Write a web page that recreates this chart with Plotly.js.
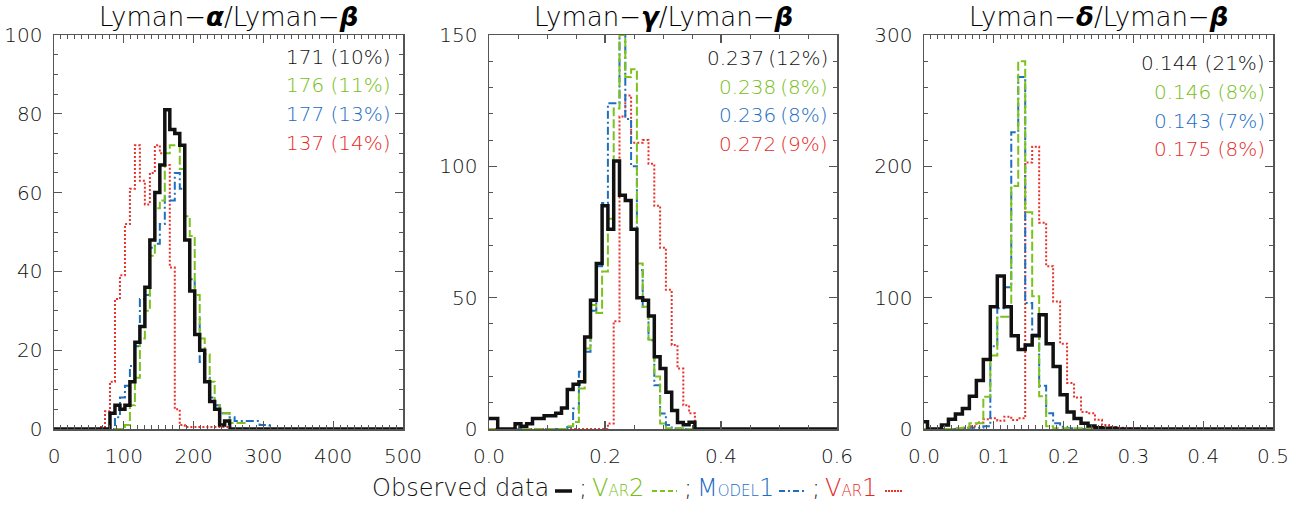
<!DOCTYPE html>
<html>
<head>
<meta charset="utf-8">
<script src="https://cdn.plot.ly/plotly-3.0.1.min.js"></script>
<style>html,body{margin:0;padding:0;background:#fff;}#chart{width:1313px;height:506px;}</style>
</head>
<body>
<div id="chart"></div>
<script>
// ---------------- DATA ----------------
// Panel 1: Lyman-alpha / Lyman-beta  (histogram bins: first edge, width)
const p1BinStart = 65.9;
const p1BinWidth = 7.143;
const p1Observed = [0, 0, 4, 6, 5, 6, 12, 22, 26, 36, 48, 60, 67, 81, 76, 75, 72, 48, 35, 24, 20, 12, 7, 5, 1, 2];
const p1Var2     = [0, 0, 0, 0, 0, 1, 6, 13, 23, 30, 44, 56, 58, 70, 72, 72, 66, 54, 49, 34, 23, 19, 12, 6, 4, 4, 1.5, 1.5, 1.5];
const p1Model1   = [0, 0, 0, 3, 8, 11, 16, 21, 33, 34, 46, 47, 52, 59, 58, 65, 61, 48, 38, 28, 17, 13, 8, 6, 4, 4, 3, 2, 2, 2, 2, 2, 1, 1];
const p1Var1     = [0.5, 4.5, 12, 33, 39, 52, 61, 72, 63, 57, 65, 72, 70, 67, 41, 5, 1, 0.5, 0.5, 0.5, 0.5, 0.5, 0.5, 0.5, 0.5, 0.5];
const p1Labels   = ["171 (10%)", "176 (11%)", "177 (13%)", "137 (14%)"];

// Panel 2: Lyman-gamma / Lyman-beta
const p2BinStart = -0.005;
const p2BinWidth = 0.01;
const p2Observed = [4, 4, 0, 0, 0, 2, 1, 2, 4, 4, 5, 5, 6, 8, 15, 17, 18, 35, 49, 63, 85, 76, 102, 89, 87, 76, 50, 49, 43, 27.5, 23, 14, 7, 2.5, 1.6, 2.6];
const p2Var2     = [0, 0, 0, 0, 0, 0, 0, 0, 0, 0, 0, 0, 0, 0, 1, 2.7, 15.4, 30.6, 47.2, 44.2, 60, 80, 122, 150, 134, 137, 63, 46.5, 34, 20, 2.1, 0.3, 0.3, 0.3];
const p2Model1   = [0, 0, 0, 0, 0, 0, 0, 0, 0, 0, 0, 0, 0, 0, 0.8, 7.8, 21.8, 29.4, 45, 62, 86, 124, 124, 150, 118, 100, 60.5, 46.5, 33.8, 16.7, 5.9, 1.5, 0.2, 0.2];
const p2Var1     = [0, 0, 0, 0, 0, 0, 0, 0, 0, 0, 0, 0, 0, 0, 0, 0, 0, 0, 0, 0, 0, 2.1, 41, 119, 127, 109, 109, 110, 101, 85, 69, 53, 32, 23, 9, 6];
const p2Labels   = ["0.237\u2009(12%)", "0.238\u2009(8%)", "0.236\u2009(8%)", "0.272\u2009(9%)"];

// Panel 3: Lyman-delta / Lyman-beta
const p3BinStart = -0.005;
const p3BinWidth = 0.01;
const p3Observed = [5.6, 0, 0, 3, 7.4, 11.4, 15.7, 25, 37, 53, 93, 116.5, 93, 71, 60.6, 64, 71, 87, 65, 47.5, 26, 13, 8, 4.3, 2.3, 1, 0.5, 0.5];
const p3Var2     = [0, 0, 0, 0, 0, 0.5, 1, 4.3, 4.3, 24.6, 56, 85.5, 85.5, 185, 280, 165, 101, 25, 2, 0.5, 0.5, 0.5, 0.5, 0.5];
const p3Model1   = [0, 0, 0, 0, 0, 0, 0.5, 1, 1, 2, 63, 92, 108, 226, 268, 96, 72, 33, 12, 4.3, 1.8, 0.5];
const p3Var1     = [0, 0, 0, 0, 0, 0.5, 1, 2, 5, 7.4, 8.1, 6.3, 9.4, 6.9, 8.1, 203, 215, 157, 124, 97, 65, 35, 24, 13, 12, 7, 3, 1.5, 1, 0.5, 0.5, 0.5];
const p3Labels   = ["0.144 (21%)", "0.146 (8%)", "0.143 (7%)", "0.175 (8%)"];

const panelTitles = [
  "Lyman\u2212<b><i>\u03b1</i></b>/Lyman\u2212<b><i>\u03b2</i></b>",
  "Lyman\u2212<b><i>\u03b3</i></b>/Lyman\u2212<b><i>\u03b2</i></b>",
  "Lyman\u2212<b><i>\u03b4</i></b>/Lyman\u2212<b><i>\u03b2</i></b>"
];
const xRanges = [[0, 500], [0, 0.6], [0, 0.5]];
const yRanges = [[0, 100], [0, 150], [0, 300]];

// legend pieces: [big letter, small caps, trailing]
const legendNames = [["Observed data", "", ""], ["V", "AR", "2"], ["M", "ODEL", "1"], ["V", "AR", "1"]];

// ---------------- STYLE ----------------
const COL = {obs: "#111111", var2: "#7cc21e", model1: "#1f6fc0", var1: "#e8322b"};
const textCol = {obs: "#111111", var2: "#74be14", model1: "#1a6cc4", var1: "#e5291f"};
const FONT = "DejaVu Sans, Verdana, sans-serif";
const WEIGHT = 300;

function stepXY(start, width, counts, xmin, xmax) {
  const xs = [], ys = [];
  if (start > xmin) { xs.push(xmin); ys.push(0); }
  counts.forEach((c, i) => { xs.push(start + i * width); ys.push(c); });
  xs.push(start + counts.length * width); ys.push(0);
  xs.push(xmax); ys.push(0);
  return {x: xs, y: ys};
}

const panels = [
  {start: p1BinStart, width: p1BinWidth, obs: p1Observed, v2: p1Var2, m1: p1Model1, v1: p1Var1, labels: p1Labels},
  {start: p2BinStart, width: p2BinWidth, obs: p2Observed, v2: p2Var2, m1: p2Model1, v1: p2Var1, labels: p2Labels},
  {start: p3BinStart, width: p3BinWidth, obs: p3Observed, v2: p3Var2, m1: p3Model1, v1: p3Var1, labels: p3Labels}
];

const styles = {
  var1: {color: COL.var1, dash: "2px,2px", w: 2},
  model1: {color: COL.model1, dash: "8px,3px,2px,3px", w: 2},
  var2: {color: COL.var2, dash: "9px,3px", w: 2},
  obs: {color: COL.obs, dash: "solid", w: 3.5}
};

const traces = [];
panels.forEach((p, i) => {
  const xa = i === 0 ? "x" : "x" + (i + 1);
  const ya = i === 0 ? "y" : "y" + (i + 1);
  const [xmin, xmax] = xRanges[i];
  const series = [[p.v1, styles.var1], [p.m1, styles.model1], [p.v2, styles.var2], [p.obs, styles.obs]];
  series.forEach(([d, s]) => {
    const xy = stepXY(p.start, p.width, d, xmin, xmax);
    traces.push({x: xy.x, y: xy.y, xaxis: xa, yaxis: ya, type: "scatter", mode: "lines",
      line: {shape: "hv", color: s.color, width: s.w, dash: s.dash}, hoverinfo: "skip"});
  });
});

const W = 1313, H = 506;
const xDomPx = [[54, 403], [489, 837], [924, 1273]];
const yDomPx = [35, 429];
const yDomain = [(H - yDomPx[1]) / H, (H - yDomPx[0]) / H];
const xDtick = [100, 0.2, 0.1], xMinor = [10, 0.05, 0.01];
const yDtick = [20, 50, 100], yMinor = [5, 10, 20];

const layout = {
  width: W, height: H, margin: {l: 0, r: 0, t: 0, b: 0},
  paper_bgcolor: "#fff", plot_bgcolor: "#fff", showlegend: false,
  font: {family: FONT, color: "#111", weight: WEIGHT},
  annotations: [], shapes: []
};

const axisCommon = {
  showgrid: false, zeroline: false, showline: true, linecolor: "#555", linewidth: 1.5,
  mirror: "ticks", ticks: "inside", ticklen: 8, tickwidth: 1.2, tickcolor: "#555",
  tickfont: {family: FONT, size: 20, color: "#111", weight: WEIGHT}
};

for (let i = 0; i < 3; i++) {
  const sfx = i === 0 ? "" : String(i + 1);
  layout["xaxis" + sfx] = Object.assign({}, axisCommon, {
    domain: [xDomPx[i][0] / W, xDomPx[i][1] / W], range: xRanges[i], anchor: "y" + sfx,
    dtick: xDtick[i], tick0: 0, ticklabelstandoff: 8,
    tickformat: i === 0 ? "d" : ".1f",
    minor: {dtick: xMinor[i], ticks: "inside", ticklen: 4, tickcolor: "#555", tickwidth: 1}
  });
  layout["yaxis" + sfx] = Object.assign({}, axisCommon, {
    domain: yDomain, range: yRanges[i], anchor: "x" + sfx,
    dtick: yDtick[i], tick0: 0, ticklabelstandoff: 6,
    minor: {dtick: yMinor[i], ticks: "inside", ticklen: 4, tickcolor: "#555", tickwidth: 1}
  });
  layout.annotations.push({
    xref: "paper", yref: "paper", x: (xDomPx[i][0] + xDomPx[i][1]) / 2 / W, y: (H - 17) / H,
    xanchor: "center", yanchor: "middle", showarrow: false,
    text: panelTitles[i], font: {family: FONT, size: 26, color: "#000", weight: WEIGHT}
  });
  const cols = [textCol.obs, textCol.var2, textCol.model1, textCol.var1];
  const rightPx = [393, 830, 1267][i];
  const yPx = [[57, 85, 114, 143], [58, 87, 115, 144], [63, 92, 121, 149]][i];
  panels[i].labels.forEach((t, j) => {
    layout.annotations.push({
      xref: "paper", yref: "paper", x: rightPx / W, y: (H - yPx[j]) / H,
      xanchor: "right", yanchor: "middle", showarrow: false,
      text: t, font: {family: FONT, size: 20, color: cols[j], weight: WEIGHT}
    });
  });
}

// bottom legend line: names, separators and line samples
const legY = (H - 488) / H;
const legNameX = [370, 590, 695, 823];
const legSampleX = [[555, 572], [652, 677], [779, 806], [885, 903]];
const legSemiX = [577, 682, 810];
const legCols = [textCol.obs, textCol.var2, textCol.model1, textCol.var1];
const legStyles = [styles.obs, styles.var2, styles.model1, styles.var1];
const legDash = ["solid", "5px,3px", "6px,3px,2px,3px", "2px,1px"];
legendNames.forEach((n, j) => {
  layout.annotations.push({
    xref: "paper", yref: "paper", x: legNameX[j] / W, y: legY, xanchor: "left", yanchor: "middle",
    showarrow: false, font: {family: FONT, size: 24, color: legCols[j], weight: WEIGHT},
    text: n[0] + (n[1] ? '<span style="font-size:15px">' + n[1] + '</span>' : '') + n[2]
  });
  const st = legStyles[j];
  layout.shapes.push({
    type: "line", xref: "paper", yref: "paper",
    x0: legSampleX[j][0] / W, x1: legSampleX[j][1] / W, y0: (H - 491) / H, y1: (H - 491) / H,
    line: {color: st.color, width: j === 0 ? 3.5 : 2, dash: legDash[j]}
  });
});
legSemiX.forEach(x => {
  layout.annotations.push({
    xref: "paper", yref: "paper", x: x / W, y: legY, xanchor: "left", yanchor: "middle",
    showarrow: false, text: ";", font: {family: FONT, size: 24, color: "#111", weight: WEIGHT}
  });
});

Plotly.newPlot("chart", traces, layout, {staticPlot: true, displayModeBar: false});
</script>
</body>
</html>
